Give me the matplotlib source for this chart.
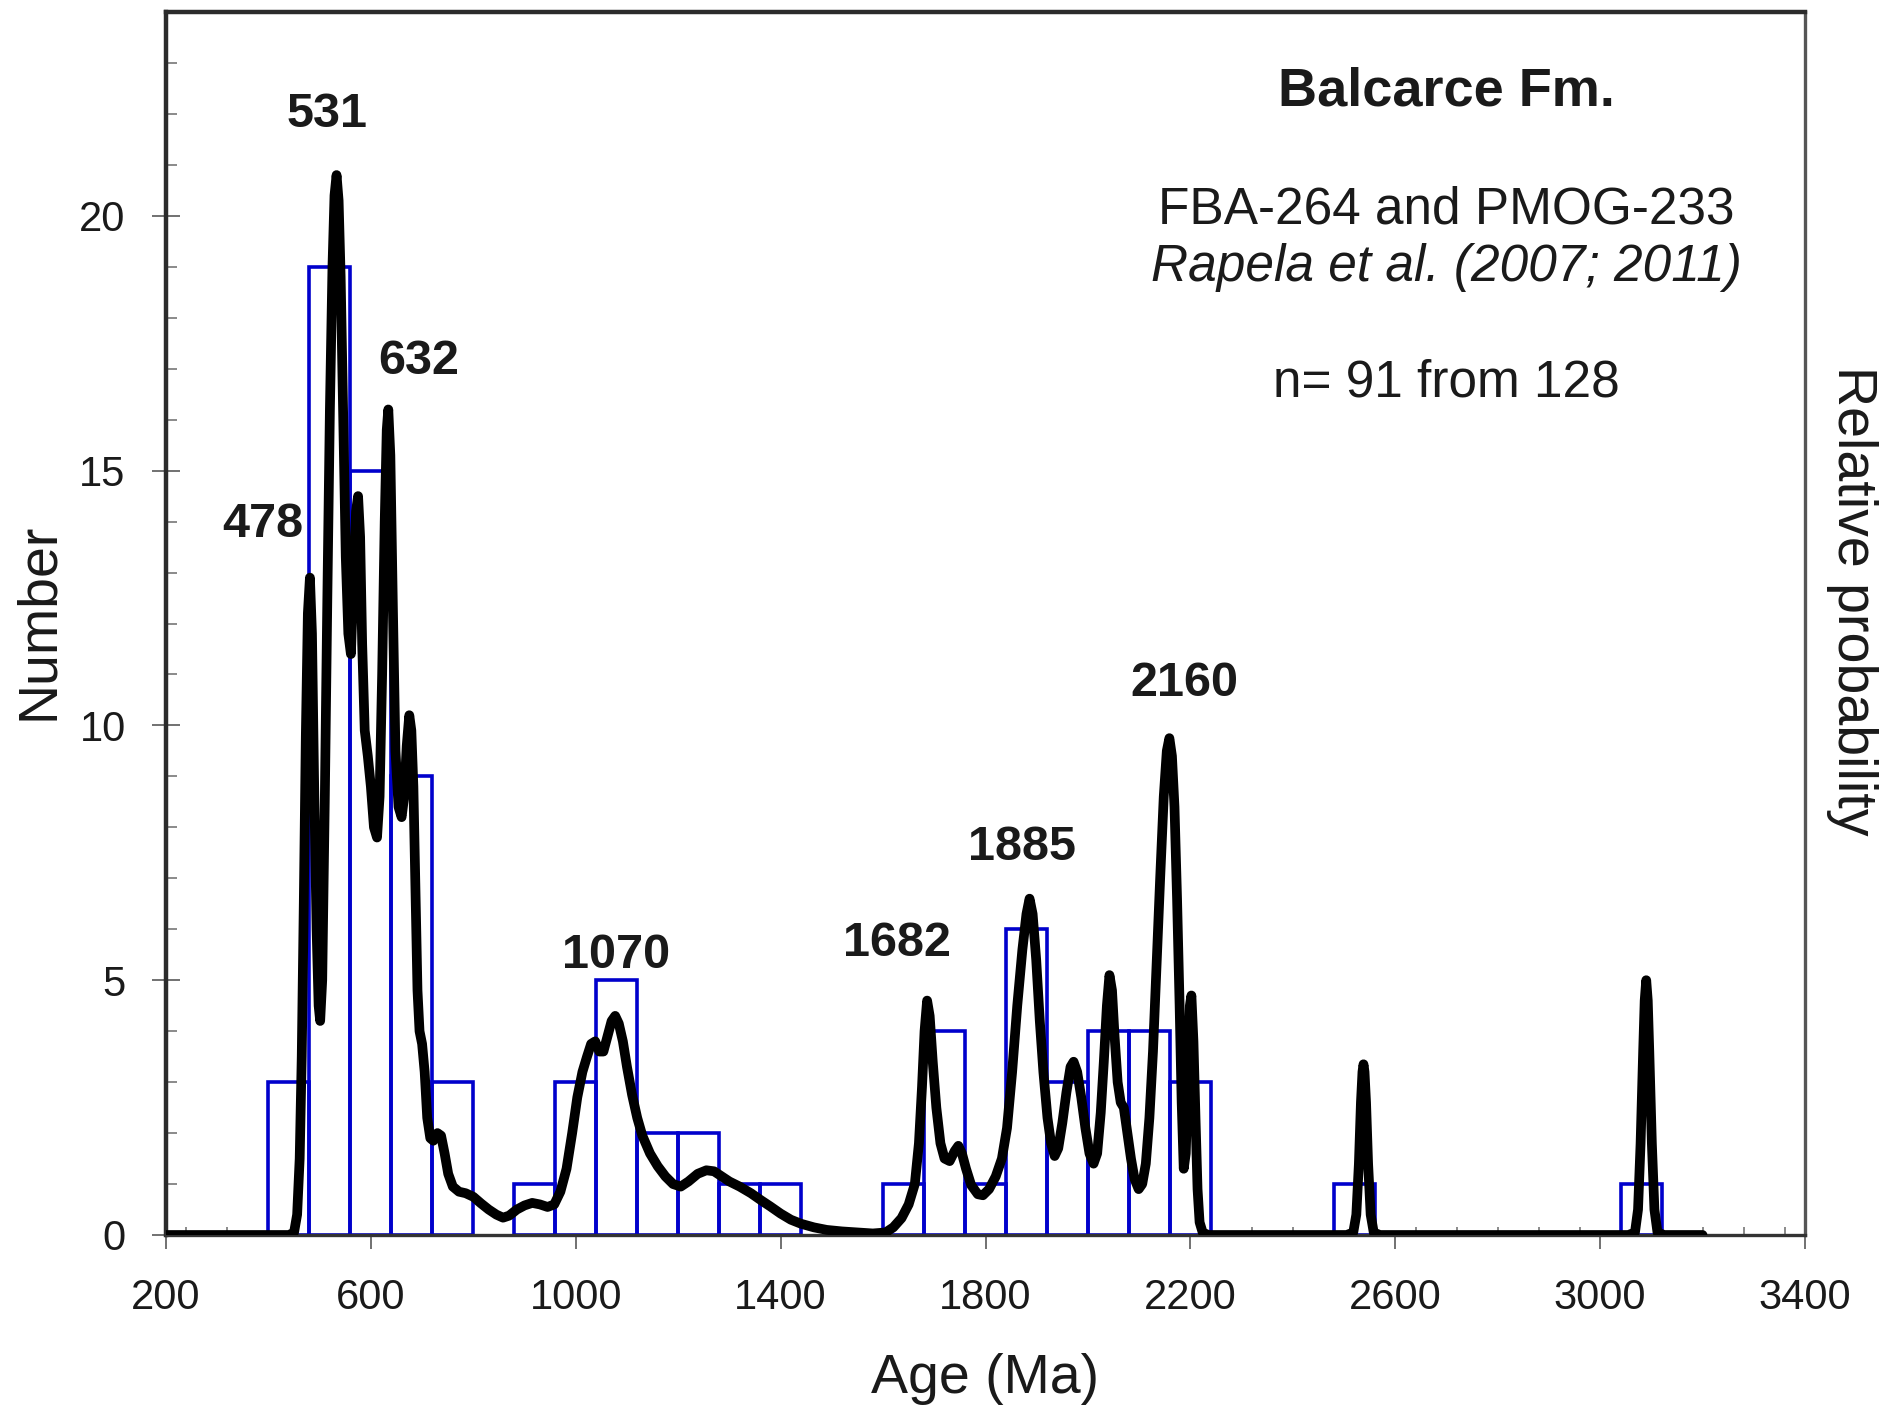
import matplotlib
matplotlib.use("Agg")
import matplotlib.pyplot as plt
from matplotlib.ticker import MultipleLocator

plt.rcParams['font.family'] = ['Liberation Sans', 'DejaVu Sans']

# Histogram of detrital zircon ages (80 Ma bins, left edges)
bin_left = [400, 480, 560, 640, 720, 880, 960, 1040, 1120, 1200, 1280, 1360,
            1600, 1680, 1760, 1840, 1920, 2000, 2080, 2160, 2480, 3040]
bin_count = [3, 19, 15, 9, 3, 1, 3, 5, 2, 2, 1, 1,
             1, 4, 1, 6, 3, 4, 4, 3, 1, 1]
bin_width = 80

# Relative probability curve (age in Ma, value on count scale)
prob_age = [200, 440, 450, 456, 461, 465, 469, 473, 477, 481, 485, 489, 494, 498,
            501, 505, 510, 515, 520, 525, 529, 533, 537, 541, 546, 551, 556, 561,
            566, 571, 575, 579, 583, 588, 594, 600, 606, 612, 617, 622, 627, 631,
            634, 638, 643, 648, 654, 660, 665, 670, 675, 679, 683, 687, 691, 695,
            700, 705, 710, 716, 722, 730, 737, 744, 751, 760, 772, 785, 800, 815,
            830, 845, 858, 870, 885, 900, 915, 930, 945, 958, 970, 982, 993, 1003,
            1013, 1022, 1030, 1038, 1046, 1054, 1062, 1070, 1077, 1084, 1092, 1100,
            1110, 1120, 1130, 1145, 1160, 1175, 1190, 1205, 1220, 1238, 1255, 1270,
            1285, 1300, 1320, 1342, 1362, 1380, 1400, 1420, 1440, 1465, 1490, 1520,
            1550, 1580, 1605, 1620, 1636, 1650, 1662, 1670, 1676, 1681, 1686, 1691,
            1697, 1704, 1712, 1720, 1730, 1740, 1747, 1754, 1762, 1772, 1785, 1795,
            1807, 1820, 1832, 1842, 1852, 1862, 1872, 1880, 1886, 1892, 1899, 1906,
            1913, 1921, 1928, 1935, 1942, 1950, 1958, 1966, 1972, 1979, 1987, 1995,
            2003, 2011, 2018, 2025, 2031, 2037, 2042, 2047, 2052, 2058, 2064, 2070,
            2077, 2084, 2091, 2099, 2106, 2113, 2120, 2127, 2134, 2141, 2148, 2154,
            2159, 2164, 2169, 2174, 2179, 2183, 2187, 2191, 2195, 2199, 2202, 2206,
            2210, 2214, 2218, 2224, 2235, 2505, 2518, 2524, 2529, 2533, 2536, 2538,
            2540, 2543, 2547, 2552, 2558, 2570, 3055, 3068, 3074, 3079, 3084, 3087,
            3090, 3093, 3096, 3101, 3106, 3112, 3125, 3200]
prob_val = [0, 0, 0.05, 0.4, 1.5, 3.5, 6.5, 9.8, 12.2, 12.9, 11.8, 9.0, 6.0, 4.5,
            4.2, 5.0, 8.5, 12.5, 16.2, 19.0, 20.4, 20.8, 20.3, 18.8, 16.0, 13.3, 11.8, 11.4,
            12.8, 14.2, 14.5, 13.7, 11.6, 9.9, 9.4, 8.8, 8.0, 7.8, 8.6, 11.0, 14.0, 15.8,
            16.2, 15.3, 12.3, 9.5, 8.4, 8.2, 8.6, 9.6, 10.2, 9.9, 8.8, 6.8, 4.8, 4.0,
            3.75, 3.2, 2.3, 1.9, 1.85, 2.0, 1.95, 1.6, 1.2, 0.95, 0.85, 0.82, 0.75, 0.62,
            0.5, 0.4, 0.34, 0.38, 0.5, 0.58, 0.63, 0.6, 0.55, 0.6, 0.85, 1.3, 2.0, 2.7,
            3.2, 3.5, 3.75, 3.8, 3.6, 3.6, 3.9, 4.2, 4.3, 4.15, 3.8, 3.3,
            2.75, 2.3, 1.95, 1.6, 1.35, 1.15, 1.0, 0.95, 1.05, 1.2, 1.27, 1.25,
            1.15, 1.05, 0.95, 0.82, 0.68, 0.56, 0.42, 0.3, 0.22, 0.15, 0.1, 0.07,
            0.05, 0.03, 0.05, 0.15, 0.33, 0.6, 1.0, 1.8, 2.9, 4.0, 4.6, 4.3,
            3.4, 2.5, 1.8, 1.5, 1.45, 1.65, 1.75, 1.6, 1.3, 0.98, 0.8, 0.78,
            0.9, 1.15, 1.5, 2.1, 3.2, 4.5, 5.6, 6.3, 6.6, 6.3, 5.4, 4.2,
            3.2, 2.3, 1.8, 1.55, 1.7, 2.2, 2.8, 3.3, 3.4, 3.2, 2.7, 2.1,
            1.6, 1.4, 1.6, 2.4, 3.4, 4.5, 5.1, 4.8, 3.9, 3.0, 2.6, 2.5,
            2.0, 1.5, 1.1, 0.9, 1.0, 1.4, 2.3, 3.6, 5.3, 7.0, 8.6, 9.5,
            9.75, 9.4, 8.4, 6.6, 4.5, 2.6, 1.3, 1.6, 3.0, 4.5, 4.7, 3.8,
            2.3, 0.9, 0.25, 0.05, 0, 0, 0.05, 0.4, 1.4, 2.6, 3.2, 3.35,
            3.2, 2.6, 1.4, 0.4, 0.05, 0, 0, 0.05, 0.5, 1.8, 3.6, 4.6,
            5.0, 4.6, 3.6, 1.8, 0.5, 0.05, 0, 0]

# Labelled probability peaks: text, x (Ma), y (count scale)
peak_text = ['478', '531', '632', '1070', '1682', '1885', '2160']
peak_x = [389, 515, 693, 1079, 1628, 1872, 2189]
peak_y = [13.95, 21.98, 17.15, 5.49, 5.73, 7.61, 10.83]

x_ticks = [200, 600, 1000, 1400, 1800, 2200, 2600, 3000, 3400]
y_ticks = [0, 5, 10, 15, 20]

fig = plt.figure(figsize=(19.02, 14.16), dpi=100)
ax = fig.add_axes([166 / 1902, 181 / 1416, 1639 / 1902, 1223 / 1416])

ax.bar(bin_left, bin_count, width=bin_width, align='edge', fill=False,
       edgecolor='#0000cc', linewidth=2.6, zorder=2)

ax.set_xlim(200, 3400)
ax.set_ylim(0, 24)
ax.set_xticks(x_ticks)
ax.set_yticks(y_ticks)
ax.xaxis.set_minor_locator(MultipleLocator(80))
ax.yaxis.set_minor_locator(MultipleLocator(1))
ax.tick_params(axis='x', which='major', direction='out', length=10, width=1.3,
               color='#666666', labelsize=30, pad=21, labelcolor='#1a1a1a')
ax.tick_params(axis='x', which='minor', direction='in', length=6, width=1.2,
               color='#777777')
ax.tick_params(axis='y', which='major', direction='inout', length=20, width=1.3,
               color='#666666', labelsize=30, pad=19, labelcolor='#1a1a1a')
ax.tick_params(axis='y', which='minor', direction='in', length=8, width=1.2,
               color='#777777')

for side, lw, col in [('left', 3.2, '#2b2b2b'), ('top', 3.2, '#2b2b2b'),
                      ('right', 2.4, '#555555'), ('bottom', 2.4, '#333333')]:
    ax.spines[side].set_linewidth(lw)
    ax.spines[side].set_color(col)

ax.set_xlabel('Age (Ma)', fontsize=40, color='#1a1a1a')
ax.xaxis.set_label_coords(0.5, -0.118)
ax.xaxis.label.set_va('center')
ax.set_ylabel('Number', fontsize=40, color='#1a1a1a')
ax.yaxis.set_label_coords(-0.0775, 0.502)
ax.yaxis.label.set_va('center')

# Probability curve on a twin axis without ticks
ax2 = ax.twinx()
ax2.set_ylim(0, 24)
ax2.set_yticks([])
for s in ax2.spines.values():
    s.set_visible(False)
ax2.plot(prob_age, prob_val, color='black', linewidth=7.0,
         solid_joinstyle='round', solid_capstyle='round', zorder=3)
ax2.set_ylabel('Relative probability', fontsize=40, rotation=270, color='#1a1a1a')
ax2.yaxis.set_label_coords(1.0287, 0.519)
ax2.yaxis.label.set_va('center')

for t, px, py in zip(peak_text, peak_x, peak_y):
    ax2.text(px, py, t, fontsize=35, fontweight='bold', ha='center', va='center',
             color='#1a1a1a')

ax2.text(0.781, 0.935, 'Balcarce Fm.', transform=ax.transAxes, fontsize=39,
         fontweight='bold', ha='center', va='center', color='#1a1a1a')
ax2.text(0.781, 0.838, 'FBA-264 and PMOG-233', transform=ax.transAxes, fontsize=37,
         ha='center', va='center', color='#1a1a1a')
ax2.text(0.781, 0.791, 'Rapela et al. (2007; 2011)', transform=ax.transAxes,
         fontsize=37, style='italic', ha='center', va='center', color='#1a1a1a')
ax2.text(0.781, 0.697, 'n= 91 from 128', transform=ax.transAxes, fontsize=37,
         ha='center', va='center', color='#1a1a1a')

fig.savefig('out.png', dpi=100)
